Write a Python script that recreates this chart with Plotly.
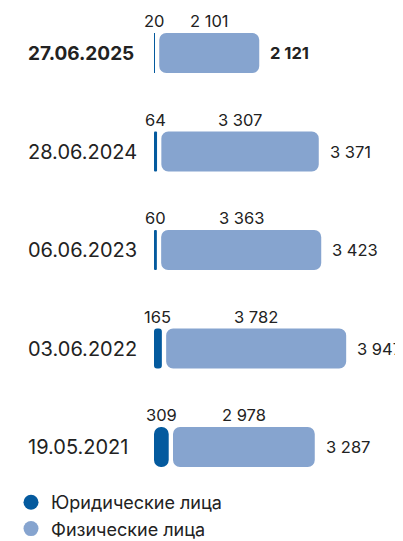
import plotly.graph_objects as go

dates = ["27.06.2025", "28.06.2024", "06.06.2023", "03.06.2022", "19.05.2021"]
legal = [20, 64, 60, 165, 309]
individual = [2101, 3307, 3363, 3782, 2978]
totals = [2121, 3371, 3423, 3947, 3287]
series_names = ["Юридические лица", "Физические лица"]

DARK = "#045a9e"
LIGHT = "#86a4cf"
TXT = "#222222"
FONT = "Inter, Roboto, sans-serif"

# page has 8px body margin; figure sized so it fits the 403x541 window
W, H = 395, 533
ML = 146
MB = 44
PX_PER_UNIT = 0.0476
XMAX = (W - ML) / PX_PER_UNIT
GAP = 4.3 / PX_PER_UNIT
BW = 0.405
ROW_PX = 98.5
FIRST_ROW_PX = 45
Y_TOP = -FIRST_ROW_PX / ROW_PX
Y_BOTTOM = Y_TOP + (H - MB) / ROW_PX


def fmt(v):
    return f"{v:,}".replace(",", " ")


fig = go.Figure()

fig.add_trace(go.Bar(
    y=dates, x=legal, base=[0] * len(legal), orientation="h", width=BW,
    marker=dict(color=DARK, cornerradius=8, line=dict(width=0)),
    showlegend=False, hoverinfo="skip",
))
light_start = [l + GAP for l in legal]
fig.add_trace(go.Bar(
    y=dates, x=individual, base=light_start, orientation="h", width=BW,
    marker=dict(color=LIGHT, cornerradius=7, line=dict(width=0)),
    showlegend=False, hoverinfo="skip",
))

for name, color in zip(series_names, [DARK, LIGHT]):
    fig.add_trace(go.Scatter(
        x=[None], y=[None], mode="markers", name=name,
        marker=dict(color=color, size=15, symbol="circle"),
    ))

ann = []
for i, d in enumerate(dates):
    bold = i == 0
    ann.append(dict(
        x=0, xref="paper", y=d, yref="y", xanchor="left", yanchor="middle",
        xshift=-(ML - 18), showarrow=False,
        text=f"<b>{d}</b>" if bold else d,
        font=dict(size=19 if bold else 20, color=TXT, family=FONT),
    ))
    ann.append(dict(
        x=legal[i] / 2, y=d, xanchor="center", yanchor="middle", yshift=32,
        showarrow=False, text=fmt(legal[i]),
        font=dict(size=16.5, color=TXT, family=FONT),
    ))
    ann.append(dict(
        x=light_start[i] + individual[i] / 2, y=d, xanchor="center", yanchor="middle",
        yshift=32, showarrow=False, text=fmt(individual[i]),
        font=dict(size=16.5, color=TXT, family=FONT),
    ))
    ann.append(dict(
        x=light_start[i] + individual[i], y=d, xanchor="left", yanchor="middle",
        xshift=9, showarrow=False,
        text=f"<b>{fmt(totals[i])}</b>" if bold else fmt(totals[i]),
        font=dict(size=16.5, color=TXT, family=FONT),
    ))

fig.update_layout(
    width=W, height=H,
    barmode="overlay",
    margin=dict(l=ML, r=0, t=0, b=MB, autoexpand=False),
    paper_bgcolor="white", plot_bgcolor="white",
    xaxis=dict(range=[0, XMAX], visible=False, fixedrange=True),
    yaxis=dict(type="category", categoryorder="array", categoryarray=dates,
               range=[Y_BOTTOM, Y_TOP], showticklabels=False, showgrid=False,
               zeroline=False, showline=False, ticks="", fixedrange=True),
    annotations=ann,
    showlegend=True,
    legend=dict(
        xref="container", yref="container", x=3 / W, y=1 - 476 / H,
        xanchor="left", yanchor="top", orientation="v",
        font=dict(size=18, color=TXT, family=FONT),
        itemwidth=30, tracegroupgap=0, bgcolor="rgba(0,0,0,0)",
    ),
)

fig.write_html("out.html")
